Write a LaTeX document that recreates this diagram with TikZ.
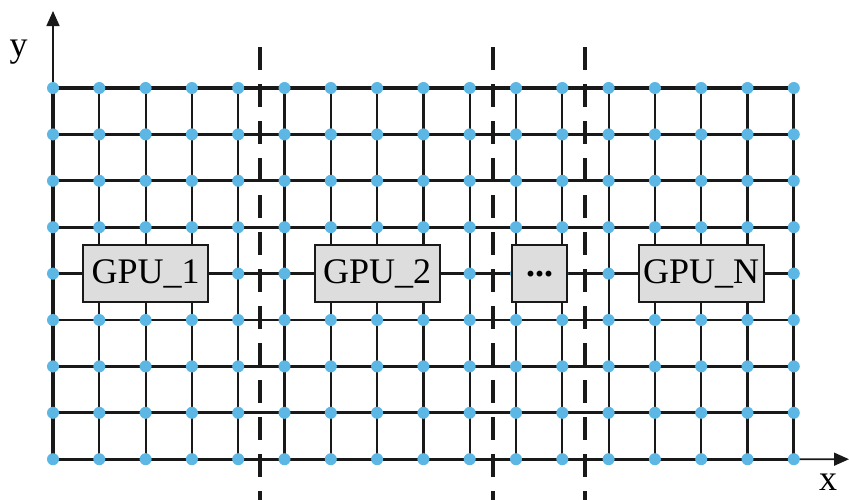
\documentclass[tikz,border=0pt]{standalone}
\usepackage{fontspec}
\setmainfont{Liberation Serif}
\usetikzlibrary{arrows.meta}
\definecolor{dotblue}{RGB}{93,183,228}
\definecolor{boxgray}{RGB}{221,221,221}
\definecolor{ink}{RGB}{25,25,25}
\tikzset{
  hline/.style={draw=ink, line width=2.7pt},
  vline/.style={draw=ink, line width=2.2pt},
  frame/.style={draw=ink, line width=3.2pt},
  axisline/.style={draw=ink, line width=1.6pt, -{Triangle[length=15pt,width=13pt]}},
  cutline/.style={draw=ink, line width=4.5pt, dash pattern=on 22.5pt off 14.5pt},
  gdot/.style={circle, fill=dotblue, inner sep=0pt, minimum size=12pt},
  gpubox/.style={draw=ink, fill=boxgray, line width=2pt, minimum width=125pt, minimum height=57pt, inner sep=0pt, font=\fontsize{36}{40}\selectfont},
  dotsbox/.style={gpubox, minimum width=55pt},
  axlabel/.style={anchor=base, inner sep=0pt, font=\fontsize{36}{40}\selectfont}
}
\begin{document}
\begin{tikzpicture}[x=1pt,y=-1pt]
\useasboundingbox (0,0) rectangle (849,499);
% grid coordinates
\foreach \i in {0,...,16}{
  \foreach \j in {0,...,8}{
    \coordinate (p-\i-\j) at ({53+46.3*\i},{88+46.4*\j});
  }
}
% grid lines
\foreach \i in {1,...,15}{
  \draw[vline] (p-\i-0) -- (p-\i-8);
}
\foreach \j in {1,...,7}{
  \draw[hline] (p-0-\j) -- (p-16-\j);
}
\draw[frame] (p-0-0) rectangle (p-16-8);
% axes
\coordinate (ytip) at (53,11);
\coordinate (xtip) at (849,459.2);
\draw[axisline] (p-0-0) -- (ytip);
\draw[axisline] (p-16-8) -- (xtip);
\node[axlabel] (ylab) at (18.5,56) {y};
\node[axlabel] (xlab) at (828,490) {x};
% partition lines
\coordinate (c1t) at (260,47);   \coordinate (c1b) at (260,510);
\coordinate (c2t) at (493,47);   \coordinate (c2b) at (493,510);
\coordinate (c3t) at (585,47);   \coordinate (c3b) at (585,510);
\draw[cutline] (c1t) -- (c1b);
\draw[cutline] (c2t) -- (c2b);
\draw[cutline] (c3t) -- (c3b);
% dots
\foreach \i in {0,...,16}{
  \foreach \j in {0,...,8}{
    \node[gdot] (d-\i-\j) at (p-\i-\j) {};
  }
}
% GPU boxes
\node[gpubox] (g1) at (p-2-4) {GPU\_1};
\node[gpubox] (g2) at (p-7-4) {GPU\_2};
\node[dotsbox] (gd) at (539.5,273.6) {\textbf{...}};
\node[gpubox] (gn) at (p-14-4) {GPU\_N};
\end{tikzpicture}
\end{document}
